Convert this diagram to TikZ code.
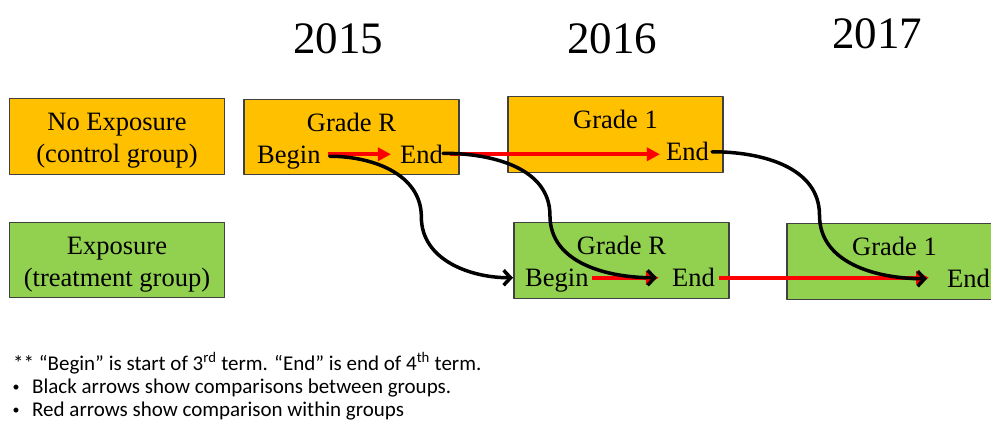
\documentclass[tikz,border=0pt]{standalone}
\usepackage{fontspec}
\setmainfont{Liberation Serif}
\newfontfamily\notefont{Carlito}
\usetikzlibrary{arrows.meta,calc}
\definecolor{ctrlorange}{HTML}{FFC000}
\definecolor{treatgreen}{HTML}{92D050}
\newcommand{\notebullet}{\makebox[20pt][l]{\hspace{0.5pt}\fontsize{14}{14}\selectfont\raisebox{1.5pt}{•}}}
\begin{document}
\begin{tikzpicture}[x=1pt,y=-1pt,line join=round,
	box/.style={draw=black!75,line width=1.1pt,minimum width=215pt,minimum height=75.5pt,inner sep=0pt,outer sep=0pt},
	ctrl/.style={box,fill=ctrlorange},
	trt/.style={box,fill=treatgreen},
	txt/.style={inner sep=0pt,font=\fontsize{26.5}{31}\selectfont},
	yr/.style={inner sep=0pt,anchor=base,font=\fontsize{45}{50}\selectfont},
	note/.style={inner sep=0pt,anchor=base west,font=\notefont\fontsize{21}{24}\selectfont},
	within/.style={red,line width=3.8pt,-{Triangle[length=13pt,width=13pt]}},
	between/.style={black,line width=3.5pt,line cap=round,-{Straight Barb[length=7pt,width=15pt]}}]
	
	\clip (0,0) rectangle (991,424);
	
	\node[yr] (y15) at (338,53) {2015};
	\node[yr] (y16) at (612,53) {2016};
	\node[yr] (y17) at (877,48) {2017};
	
	% boxes of the two groups
	\node[ctrl] (noexp) at (117,136.5) {};
	\node[ctrl] (gr15) at (351.5,137) {};
	\node[ctrl] (g16) at (615.5,134.5) {};
	\node[trt] (expo) at (117,260) {};
	\node[trt] (gr16) at (621.5,260.5) {};
	\node[trt] (g17) at (894.5,261.5) {};
	
	\node[txt,anchor=base] (noexp1) at ([yshift=-32pt]noexp.north) {No Exposure};
	\node[txt,anchor=base] (noexp2) at ([yshift=-64pt]noexp.north) {(control group)};
	\node[txt,anchor=base] (expo1) at ([yshift=-32pt]expo.north) {Exposure};
	\node[txt,anchor=base] (expo2) at ([yshift=-64pt]expo.north) {(treatment group)};
	
	\node[txt,anchor=base] (gr15t) at ([yshift=-32pt]gr15.north) {Grade R};
	\node[txt,anchor=base west] (gr15b) at ([xshift=13pt,yshift=-64pt]gr15.north west) {Begin};
	\node[txt,anchor=base east] (gr15e) at ([xshift=-16pt,yshift=-64pt]gr15.north east) {End};
	\node[txt,anchor=base] (g16t) at ([yshift=-32pt]g16.north) {Grade 1};
	\node[txt,anchor=base east] (g16e) at ([xshift=-14pt,yshift=-64pt]g16.north east) {End};
	\node[txt,anchor=base] (gr16t) at ([yshift=-32pt]gr16.north) {Grade R};
	\node[txt,anchor=base west] (gr16b) at ([xshift=11pt,yshift=-64pt]gr16.north west) {Begin};
	\node[txt,anchor=base east] (gr16e) at ([xshift=-14pt,yshift=-64pt]gr16.north east) {End};
	\node[txt,anchor=base] (g17t) at ([yshift=-32pt]g17.north) {Grade 1};
	\node[txt,anchor=base west] (g17e) at ([xshift=160pt,yshift=-64pt]g17.north west) {End};
	
	% red: within groups
	\coordinate (r2) at ([xshift=7pt,yshift=9pt]gr15e.base east);
	\coordinate (r4) at ([xshift=4pt,yshift=9pt]gr16e.base east);
	\draw[within] ([xshift=7pt,yshift=9pt]gr15b.base east) -- ([xshift=-9pt,yshift=9pt]gr15e.base west);
	\draw[within] (r2) -- ([xshift=-6pt]g16e.west |- r2);
	\draw[within] ([xshift=3pt,yshift=9pt]gr16b.base east) -- ([xshift=-13pt,yshift=9pt]gr16e.base west);
	\draw[within] (r4) -- ([xshift=-18pt]g17e.west |- r4);
	
	% black: between groups
	\coordinate (a1) at ([xshift=9pt,yshift=7pt]gr15b.base east);
	\coordinate (a2) at ([xshift=-12pt,yshift=9pt]gr16b.base west);
	\coordinate (b1) at ([xshift=0pt,yshift=10pt]gr15e.base east);
	\coordinate (b2) at ([xshift=-15pt,yshift=9pt]gr16e.base west);
	\coordinate (c1) at ([xshift=3pt,yshift=9pt]g16e.base east);
	\coordinate (c2) at ([xshift=-20pt,yshift=9pt]g17e.base west);
	\draw[between] (a1) to[out=0,in=90] ($(a1)!.5!(a2)$) to[out=-90,in=180] (a2);
	\draw[between] (b1) to[out=0,in=90] ($(b1)!.5!(b2)$) to[out=-90,in=180] (b2);
	\draw[between] (c1) to[out=0,in=90] ($(c1)!.5!(c2)$) to[out=-90,in=180] (c2);
	
	\node[note] (n1) at (13,370) {** “Begin” is start of 3\textsuperscript{rd} term. “End” is end of 4\textsuperscript{th} term.};
	\node[note] (n2) at (12,393) {\notebullet Black arrows show comparisons between groups.};
	\node[note] (n3) at (12,416) {\notebullet Red arrows show comparison within groups};
\end{tikzpicture}
\end{document}
